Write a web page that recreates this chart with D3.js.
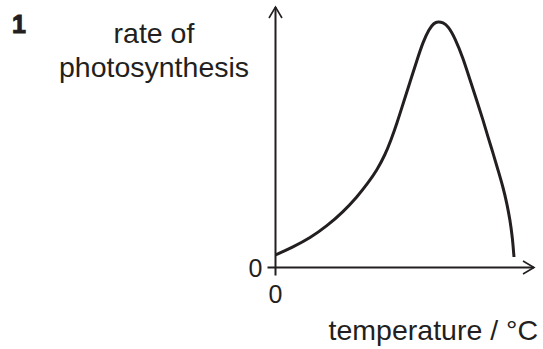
<!DOCTYPE html>
<html>
<head>
<meta charset="utf-8">
<script src="https://cdn.jsdelivr.net/npm/d3@7"></script>
<style>
  html, body { margin: 0; padding: 0; background: #fff; }
  svg { display: block; font-family: "Liberation Sans", Arial, sans-serif; }
</style>
</head>
<body>
<svg id="chart" width="543" height="349"></svg>
<script>
// Sketch graph: rate of photosynthesis against temperature (arbitrary units)
const temperature = [0, 6.77, 13.35, 19.92, 26.11, 31.53, 35.78, 39.26, 42.36, 44.68, 47.00, 49.32, 52.03, 54.74, 57.06, 59.38, 61.32, 62.86, 64.80, 66.73, 69.44, 72.53, 75.24, 77.95, 80.27, 82.21, 84.14, 86.07, 88.01, 89.56, 90.72, 91.68, 92.26];
const rate        = [4.8, 7.87, 11.32, 15.93, 21.31, 27.06, 32.44, 37.43, 43.19, 48.94, 55.47, 62.76, 71.21, 79.65, 86.56, 91.55, 93.86, 94.43, 94.05, 92.71, 88.10, 80.42, 71.98, 63.92, 56.62, 50.10, 43.95, 37.43, 30.90, 24.38, 18.23, 11.32, 4.03];
const xTickLabels = ["0"];
const yTickLabels = ["0"];

const ink = "#231f20";
const svg = d3.select("#chart");

const x = d3.scaleLinear().domain([0, 100]).range([275.5, 534]);
const y = d3.scaleLinear().domain([0, 100]).range([267.5, 7]);

// Question number
svg.append("text")
  .attr("x", 12).attr("y", 33)
  .attr("font-size", 25).attr("font-weight", "bold")
  .attr("fill", ink)
  .attr("stroke", ink).attr("stroke-width", 1)
  .text("1");

// Y-axis title
const yTitle = svg.append("text")
  .attr("text-anchor", "middle")
  .attr("font-size", 28.5)
  .attr("fill", ink);
yTitle.append("tspan").attr("x", 154).attr("y", 43).text("rate of");
yTitle.append("tspan").attr("x", 154).attr("y", 77).text("photosynthesis");

// X-axis title
svg.append("text")
  .attr("x", 538).attr("y", 340)
  .attr("text-anchor", "end")
  .attr("font-size", 28.5)
  .attr("fill", ink)
  .text("temperature / °C");

// Axes: lines with a short tick crossing the origin
const axes = svg.append("g")
  .attr("stroke", ink).attr("stroke-width", 2).attr("fill", "none");

axes.append("line")
  .attr("x1", x(0)).attr("x2", x(0))
  .attr("y1", y(100)).attr("y2", y(0) + 8);
axes.append("line")
  .attr("x1", x(0) - 8).attr("x2", x(100))
  .attr("y1", y(0)).attr("y2", y(0));

// Open arrowheads
axes.append("path")
  .attr("stroke-width", 1.6)
  .attr("d", `M${x(0) - 6.5},${y(100) + 11} L${x(0)},${y(100)} L${x(0) + 6.5},${y(100) + 11}`);
axes.append("path")
  .attr("stroke-width", 1.6)
  .attr("d", `M${x(100) - 11},${y(0) - 6.5} L${x(100)},${y(0)} L${x(100) - 11},${y(0) + 6.5}`);

// Origin labels
svg.append("text")
  .attr("x", x(0) - 13).attr("y", y(0) + 9)
  .attr("text-anchor", "end")
  .attr("font-size", 25)
  .attr("fill", ink)
  .text(yTickLabels[0]);
svg.append("text")
  .attr("x", x(0)).attr("y", y(0) + 35)
  .attr("text-anchor", "middle")
  .attr("font-size", 25)
  .attr("fill", ink)
  .text(xTickLabels[0]);

// Smooth curve through the sampled rates
const line = d3.line()
  .x((d, i) => x(temperature[i]))
  .y((d, i) => y(rate[i]))
  .curve(d3.curveBasis);

svg.append("path")
  .datum(rate)
  .attr("d", line)
  .attr("fill", "none")
  .attr("stroke", ink)
  .attr("stroke-width", 3)
  .attr("stroke-linecap", "butt");
</script>
</body>
</html>
